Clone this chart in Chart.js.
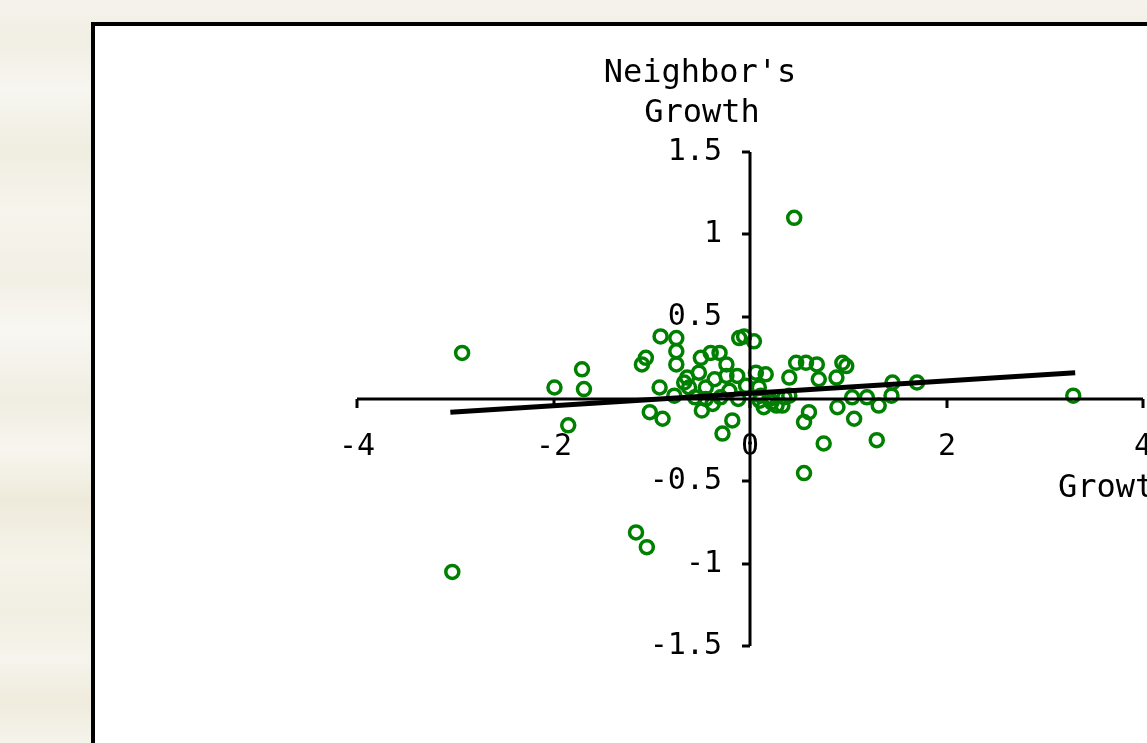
<!DOCTYPE html>
<html>
<head>
<meta charset="utf-8">
<title>Neighbor's Growth vs Growth</title>
<script src="https://cdn.jsdelivr.net/npm/chart.js@4.4.0/dist/chart.umd.min.js"></script>
<style>
    html, body {
        margin: 0;
        padding: 0;
        width: 1147px;
        height: 743px;
        overflow: hidden;
    }
    body {
        position: relative;
        background:
            linear-gradient(180deg,
                #f5f3eb 0px, #f1eee4 40px, #f7f6f0 90px, #f0ede1 150px,
                #f6f4ec 210px, #f2efe5 280px, #f8f7f2 330px, #f0ede2 400px,
                #f7f5ee 450px, #eeeadb 500px, #f5f3ea 560px, #f1eee2 610px,
                #f6f4ec 660px, #efebdd 700px, #f5f3eb 743px);
    }
    #panel {
        position: absolute;
        left: 91px;
        top: 22px;
        width: 1200px;
        height: 900px;
        border: 4px solid #000;
        background: #fff;
    }
    #chart {
        position: absolute;
        left: 0;
        top: 0;
    }
</style>
</head>
<body>
<div id="panel"></div>
<canvas id="chart" width="1147" height="743"></canvas>
<script>
// growth (x) and neighbor's growth (y)
const growth = [
    0.45, -2.93, -3.03, 3.29, -1.99, -1.71, -1.69, -1.85, -1.16, -1.05,
    0.55, 0.75, 1.29, 1.70, 1.45, -0.91, -0.75, -1.06, -1.10, -0.75,
    -0.75, -0.64, -0.50, -0.40, -0.31, -0.11, -0.06, 0.04, -0.92, -1.02,
    -0.89, -0.49, -0.38, -0.18, -0.28, -0.24, -0.13, 0.06, 0.16, 0.40,
    -0.04, 0.22, 0.33, -0.45, -0.67, 0.47, 0.57, 0.68, 0.94, 0.88,
    0.09, 0.14, 0.27, 0.60, 0.55, 0.89, 1.06, 1.04, 1.19, 1.31,
    1.44, -0.62, -0.52, -0.36, 0.11, -0.21, 0.40, 0.70, 0.98, -0.24,
    -0.77, -0.56, 0.10, 0.20, 0.35, -0.45, -0.30, -0.12
];
const neighborGrowth = [
    1.10, 0.28, -1.05, 0.02, 0.07, 0.18, 0.06, -0.16, -0.81, -0.90,
    -0.45, -0.27, -0.25, 0.10, 0.10, 0.38, 0.37, 0.25, 0.21, 0.29,
    0.21, 0.13, 0.25, 0.28, 0.28, 0.37, 0.38, 0.35, 0.07, -0.08,
    -0.12, -0.07, -0.03, -0.13, -0.21, 0.14, 0.14, 0.16, 0.15, 0.13,
    0.08, -0.02, -0.04, 0.07, 0.10, 0.22, 0.22, 0.21, 0.22, 0.13,
    0.07, -0.05, -0.04, -0.08, -0.14, -0.05, -0.12, 0.01, 0.01, -0.04,
    0.02, 0.07, 0.16, 0.12, 0.02, 0.05, 0.02, 0.12, 0.20, 0.21,
    0.02, 0.01, -0.01, 0.00, 0.01, 0.00, 0.01, 0.00
];

// fitted line end points
const fitX = [-3.05, 3.31];
const fitY = [-0.08, 0.16];

// axis ticks
const xTicks = [-4, -2, 0, 2, 4];
const yTicks = [1.5, 1, 0.5, -0.5, -1, -1.5];

const xTitle = 'Growth';
const yTitle = ["Neighbor's", 'Growth'];

const FONT_TICK = '30px "DejaVu Sans Mono", monospace';
const FONT_TITLE = '32px "DejaVu Sans Mono", monospace';

// axes crossing at the origin, drawn from the chart's own scales
const crossAxes = {
    id: 'crossAxes',
    afterDatasetsDraw(chart) {
        const ctx = chart.ctx;
        const xs = chart.scales.x;
        const ys = chart.scales.y;
        const x0 = Math.round(xs.getPixelForValue(0));
        const y0 = Math.round(ys.getPixelForValue(0));

        ctx.save();
        ctx.strokeStyle = '#000';
        ctx.fillStyle = '#000';
        ctx.lineWidth = 3;
        ctx.lineCap = 'butt';

        // x axis
        ctx.beginPath();
        ctx.moveTo(xs.getPixelForValue(xTicks[0]), y0);
        ctx.lineTo(xs.getPixelForValue(xTicks[xTicks.length - 1]), y0);
        ctx.stroke();

        ctx.font = FONT_TICK;
        ctx.textAlign = 'center';
        ctx.textBaseline = 'middle';
        xTicks.forEach(v => {
            const px = Math.round(xs.getPixelForValue(v));
            ctx.beginPath();
            ctx.moveTo(px, y0);
            ctx.lineTo(px, y0 + 9);
            ctx.stroke();
            ctx.fillText(String(v), px, y0 + 48);
        });

        // y axis
        ctx.beginPath();
        ctx.moveTo(x0, ys.getPixelForValue(yTicks[0]));
        ctx.lineTo(x0, ys.getPixelForValue(yTicks[yTicks.length - 1]));
        ctx.stroke();

        ctx.textAlign = 'right';
        yTicks.forEach(v => {
            const py = Math.round(ys.getPixelForValue(v));
            ctx.beginPath();
            ctx.moveTo(x0, py);
            ctx.lineTo(x0 - 8, py);
            ctx.stroke();
            ctx.fillText(String(v), x0 - 28, py);
        });

        // titles
        ctx.font = FONT_TITLE;
        ctx.textBaseline = 'alphabetic';
        ctx.textAlign = 'center';
        ctx.fillText(yTitle[0], 700, 82);
        ctx.fillText(yTitle[1], 702, 122);
        ctx.textAlign = 'left';
        ctx.fillText(xTitle, 1058, 497);

        ctx.restore();
    }
};

new Chart(document.getElementById('chart'), {
    type: 'scatter',
    data: {
        datasets: [
            {
                type: 'line',
                label: 'fit',
                data: fitX.map((x, i) => ({ x, y: fitY[i] })),
                borderColor: '#000',
                borderWidth: 5,
                pointRadius: 0,
                fill: false,
                order: 0
            },
            {
                label: "Neighbor's Growth",
                data: growth.map((x, i) => ({ x, y: neighborGrowth[i] })),
                pointStyle: 'circle',
                pointRadius: 6.5,
                borderWidth: 3.5,
                borderColor: '#008000',
                backgroundColor: 'rgba(0,0,0,0)',
                order: 1
            }
        ]
    },
    options: {
        responsive: false,
        animation: false,
        layout: {
            autoPadding: false,
            padding: { left: 357, right: 4, top: 152, bottom: 97 }
        },
        plugins: {
            legend: { display: false },
            tooltip: { enabled: false },
            title: { display: false }
        },
        scales: {
            x: { type: 'linear', min: -4, max: 4, display: false },
            y: { type: 'linear', min: -1.5, max: 1.5, display: false }
        }
    },
    plugins: [crossAxes]
});
</script>
</body>
</html>
